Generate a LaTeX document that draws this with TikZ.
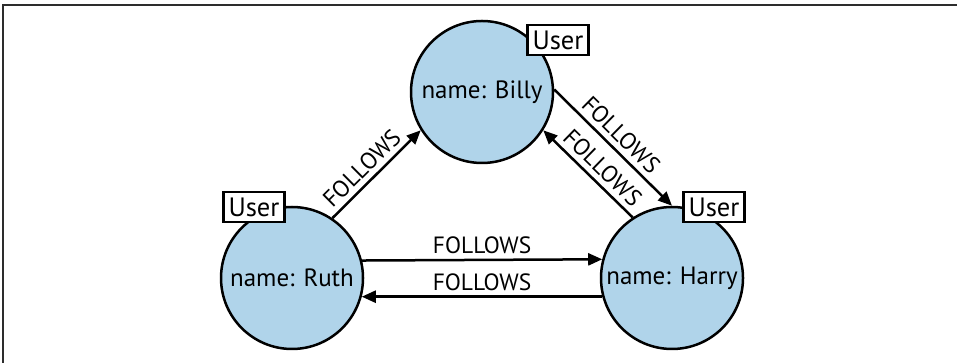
\documentclass[tikz,border=0pt]{standalone}
\usepackage{fontspec}
\setsansfont{PT Sans}
\usepackage{tikz}
\usetikzlibrary{arrows.meta}
\definecolor{nodeblue}{RGB}{176,212,234}
\definecolor{framegray}{RGB}{45,45,45}
\tikzstyle{person} = [draw=black, fill=nodeblue, line width=2.5pt,
    circle, minimum size=142pt, inner sep=0pt, font=\sffamily\fontsize{25}{25}\selectfont]
\tikzstyle{userbox} = [draw=black, fill=white, line width=2.2pt, rectangle,
    minimum width=61pt, minimum height=30pt, inner sep=0pt, font=\sffamily\fontsize{26.5}{26.5}\selectfont]
\tikzstyle{follows} = [line width=2.5pt, -{Triangle[length=14pt,width=12pt]}]
\tikzstyle{followstext} = [font=\sffamily\fontsize{23.5}{23.5}\selectfont, sloped, above=4pt, inner sep=1pt]

\begin{document}
\begin{tikzpicture}[x=1pt, y=1pt]
                \useasboundingbox (0,0) rectangle (957,363);
                \draw[framegray, line width=2pt] (3,0) -- (3,358) -- (957,358);
                \node [person] (billy) at (482,271) {name: Billy};
                \node [person] (ruth) at (292,85) {name: Ruth};
                \node [person] (harry) at (672,85) {name: Harry};
                \node [userbox] (billyuser) at (558,323) {User};
                \node [userbox] (ruthuser) at (254,156) {User};
                \node [userbox] (harryuser) at (714,156) {User};
                \draw [follows] (ruth.56) -- node[followstext, pos=0.45] {FOLLOWS} (billy.212);
                \draw [follows] (ruth.14.5) -- node[followstext] {FOLLOWS} (harry.165.5);
                \draw [follows] (harry.195) -- node[followstext] {FOLLOWS} (ruth.-15);
                \draw [follows] (billy.2) -- node[followstext, pos=0.48] {FOLLOWS} (harry.90);
                \draw [follows] (harry.123) -- node[followstext, pos=0.45] {FOLLOWS} (billy.-32);
            \end{tikzpicture}
\end{document}
